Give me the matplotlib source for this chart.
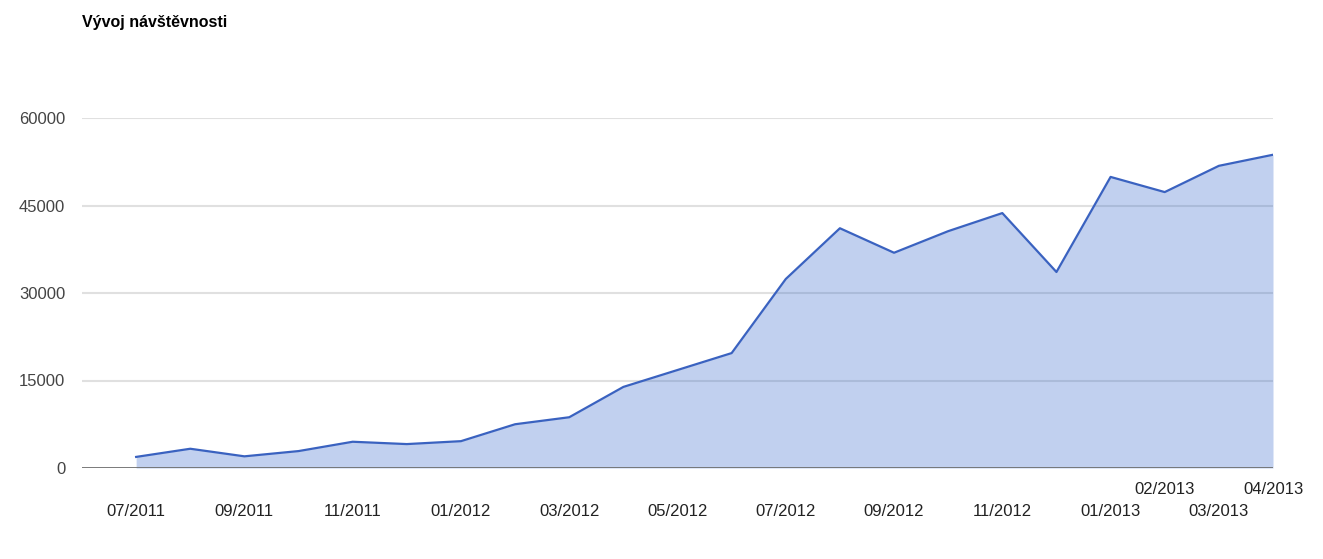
import matplotlib
matplotlib.use("Agg")
import matplotlib.pyplot as plt
import matplotlib.transforms as mtransforms

plt.rcParams['font.family'] = ['Liberation Sans', 'DejaVu Sans']

months = ["07/2011", "08/2011", "09/2011", "10/2011", "11/2011", "12/2011",
          "01/2012", "02/2012", "03/2012", "04/2012", "05/2012", "06/2012",
          "07/2012", "08/2012", "09/2012", "10/2012", "11/2012", "12/2012",
          "01/2013", "02/2013", "03/2013", "04/2013"]
visits = [1900, 3300, 2000, 2900, 4500, 4100,
          4600, 7500, 8700, 13900, 16800, 19700,
          32400, 41100, 36900, 40600, 43700, 33600,
          49900, 47300, 51800, 53700]
yticks = [0, 15000, 30000, 45000, 60000]
# labels lifted to a second row (they would overlap otherwise)
raised = ["02/2013", "04/2013"]

fig = plt.figure(figsize=(13.23, 5.59), dpi=100)
ax = fig.add_axes([82/1323, 1 - 468/559, (1273-82)/1323, 350/559])

x = list(range(len(months)))
ax.fill_between(x, visits, 0, color='#3366cc', alpha=0.3, linewidth=0, zorder=2)
ax.plot(x, visits, color='#3a62c0', linewidth=1.6, zorder=3)

ax.set_xlim(-1, len(months) - 1)
ax.set_ylim(0, 60000)
ax.set_yticks(yticks)
ax.set_yticklabels([str(v) for v in yticks], fontsize=12, color='#444444')
for v in yticks[1:]:
    ax.axhline(v, color='#e0e0e0', linewidth=1.5, zorder=1)
ax.axhline(0, color='#707070', linewidth=1.3, zorder=4)

for s in ax.spines.values():
    s.set_visible(False)
ax.tick_params(axis='y', length=0, pad=18 - 6)
ax.set_xticks([])

trans = mtransforms.blended_transform_factory(ax.transData, fig.transFigure)
for i, m in enumerate(months):
    if m in raised:
        ax.text(i, 1 - 489/559, m, transform=trans, ha='center', va='center',
                fontsize=12, color='#222222')
    elif i % 2 == 0:
        ax.text(i, 1 - 511/559, m, transform=trans, ha='center', va='center',
                fontsize=12, color='#222222')

fig.text(82/1323, 1 - 22/559, "Vývoj návštěvnosti", fontsize=11.5,
         fontweight='bold', ha='left', va='center', color='#000000')

fig.savefig("out.png", dpi=100)
